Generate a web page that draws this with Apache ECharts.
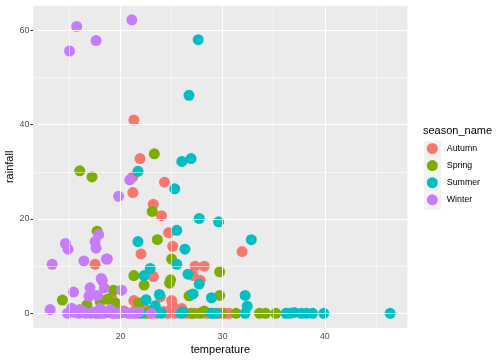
<!DOCTYPE html>
<html><head><meta charset="utf-8">
<script src="https://cdn.jsdelivr.net/npm/echarts@6/dist/echarts.min.js"></script>
<style>html,body{margin:0;padding:0;background:#fff}#c{width:504px;height:360px}</style>
</head><body><div id="c"></div>
<script>
const seasons = ['Autumn','Spring','Summer','Winter'];
const colors = ['#F8766D','#7CAE00','#00BFC4','#C77CFF'];
const xTicks = [20,30,40];
const xMinor = [15,25,35,45];
const yTicks = [0,20,40,60];
const yMinor = [10,30,50];

const autumn = [[21.3,41.0],[21.9,32.8],[21.2,28.9],[24.3,27.8],[21.2,25.6],[23.2,23.1],[24.0,20.7],[24.7,17.1],[22.0,12.6],[25.1,14.2],[17.5,10.4],[18.7,11.5],[27.3,10.0],[28.2,10.0],[23.2,7.8],[27.1,8.0],[27.8,7.0],[31.9,13.1],[18.2,7.0],[19.1,3.4],[21.3,2.7],[23.9,3.5],[25.0,2.7],[25.1,1.5],[21.5,0.8],[19.5,1.2],[18.5,0.3],[19.2,0],[20.3,0.5],[20.8,0],[21.6,0],[22.2,0.2],[22.8,0],[23.5,0],[24.2,0.4],[24.6,0],[25.3,0],[25.8,0.3],[26.3,0],[26.8,0],[27.3,0],[27.9,0.2],[28.4,0],[28.9,0],[29.5,0],[30.2,0],[30.6,0],[22.5,0.8],[24.9,0.8],[26.0,1.0]];
const spring = [[23.3,33.8],[16.0,30.2],[17.2,28.9],[23.1,21.6],[17.7,17.4],[23.6,15.6],[25.0,11.5],[21.3,8.0],[22.3,6.0],[29.7,8.8],[24.9,7.1],[24.8,6.4],[14.3,2.8],[19.3,4.9],[18.7,3.0],[26.7,3.7],[26.9,3.9],[29.7,3.8],[16.7,1.8],[21.8,2.2],[19.5,2.2],[18.0,2.5],[16.7,0.4],[17.6,0],[18.3,0.3],[19.8,0],[20.5,0.2],[22.5,0],[23.0,0.5],[27.0,0],[27.8,0],[28.2,0.5],[29.9,0],[31.3,0],[33.6,0],[34.2,0],[35.2,0],[26.2,0.2]];
const summer = [[27.6,58.0],[26.7,46.2],[26.0,32.2],[26.9,32.8],[21.7,30.1],[25.3,26.4],[27.7,20.1],[29.6,19.4],[21.7,15.2],[25.5,17.6],[26.3,13.6],[32.8,15.6],[25.5,10.4],[22.9,9.5],[22.3,8.0],[26.6,8.3],[27.7,6.2],[23.8,4.0],[27.1,4.1],[28.9,3.3],[32.2,3.8],[32.4,1.5],[22.5,2.9],[23.4,1.6],[22.0,0],[23.6,0.3],[25.9,0],[26.1,0.3],[28.9,0],[29.3,0],[32.2,0],[36.2,0],[36.6,0],[37.0,0.2],[37.7,0],[38.2,0],[38.8,0],[39.9,0],[46.4,0],[24.0,0]];
const winter = [[15.7,60.8],[21.1,62.2],[17.6,57.8],[15.0,55.6],[20.9,28.3],[19.8,24.8],[17.85,16.7],[17.5,15.2],[17.6,13.8],[14.6,14.8],[14.85,13.6],[13.3,10.4],[16.4,11.1],[18.6,11.5],[18.1,7.4],[18.4,5.4],[17.0,5.4],[16.9,3.6],[17.75,3.8],[15.4,4.5],[20.1,4.9],[13.1,0.8],[15.2,1.1],[14.8,0],[15.5,0.2],[15.9,0],[16.3,0.5],[16.6,0],[17.1,0],[17.4,0.3],[17.9,0],[18.3,0],[18.8,0.2],[19.4,0],[19.9,0],[20.4,0.2],[20.9,0],[21.3,0],[21.8,0.3],[23.0,0],[16.0,0.8],[18.0,1.0],[19.0,0.8]];
const seriesData = [autumn, spring, summer, winter];

const FONT = '"Liberation Sans", Arial, sans-serif';
const chart = echarts.init(document.getElementById('c'), null, {renderer:'canvas'});

function gridSeries(vals, axis, width){
  return {type:'scatter', data:[], z:1, silent:true,
    markLine:{silent:true, symbol:['none','none'], animation:false, label:{show:false},
      lineStyle:{color:'#FFFFFF', width:width, type:'solid', opacity:1},
      emphasis:{disabled:true},
      data: vals.map(v => ({[axis]: v}))}};
}

const series = [
  gridSeries(xMinor,'xAxis',0.55), gridSeries(yMinor,'yAxis',0.55),
  gridSeries(xTicks,'xAxis',1.1), gridSeries(yTicks,'yAxis',1.1)
];
seasons.forEach((s,i)=>{
  series.push({name:s, type:'scatter', z:2, data:seriesData[i], symbolSize:11,
    itemStyle:{color:colors[i], opacity:1}, emphasis:{disabled:true}});
});

chart.setOption({
  animation:false,
  textStyle:{fontFamily:FONT},
  grid:{left:33.3, right:96.6, top:5.7, bottom:32, show:true, backgroundColor:'#EBEBEB', borderWidth:0, containLabel:false, outerBoundsMode:'none'},
  title:{text:'season_name', left:423, top:125, padding:0, textStyle:{fontSize:11, fontWeight:'normal', color:'#000', fontFamily:FONT}},
  graphic:[{type:'rect', shape:{x:424, y:141, width:17, height:69}, style:{fill:'#F2F2F2'}, z:-1, silent:true}],
  legend:{data:seasons, orient:'vertical', left:426.8, top:143, padding:0, itemWidth:11, itemHeight:11, itemGap:6.1, icon:'circle',
    textStyle:{fontSize:8.8, color:'#000', fontFamily:FONT, padding:[0,0,0,4]}, selectedMode:false},
  xAxis:{type:'value', min:11.45, max:48.09,
    name:'temperature', nameLocation:'middle', nameGap:16.5, nameMoveOverlap:false, nameTextStyle:{fontSize:11, color:'#000', fontFamily:FONT},
    axisLine:{show:false}, splitLine:{show:false},
    axisTick:{show:true, length:2.75, lineStyle:{color:'#333333', width:1}, customValues:xTicks},
    axisLabel:{customValues:xTicks, fontSize:8.8, color:'#4D4D4D', margin:4, fontFamily:FONT, formatter:v=>String(v)}},
  yAxis:{type:'value', min:-3.11, max:65.2,
    name:'rainfall', nameLocation:'middle', nameGap:18, nameMoveOverlap:false, nameRotate:90, nameTextStyle:{fontSize:11, color:'#000', fontFamily:FONT},
    axisLine:{show:false}, splitLine:{show:false},
    axisTick:{show:true, length:2.75, lineStyle:{color:'#333333', width:1}, customValues:yTicks},
    axisLabel:{customValues:yTicks, fontSize:8.8, color:'#4D4D4D', margin:4, fontFamily:FONT, formatter:v=>String(v)}},
  series:series
});
</script></body></html>
